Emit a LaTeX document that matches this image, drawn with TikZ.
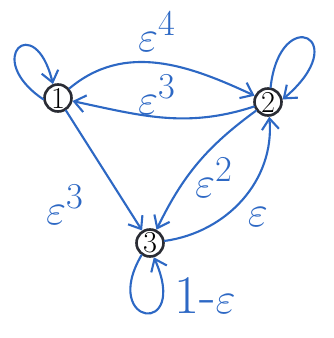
\documentclass[tikz,border=0pt]{standalone}
\usetikzlibrary{arrows.meta}
\definecolor{penblue}{HTML}{2D68C4}
\definecolor{inkgray}{HTML}{2A2C34}

\begin{document}
\begin{tikzpicture}[x=0.02cm, y=0.02cm,
    state/.style={circle, draw=inkgray, line width=1.5pt, minimum size=0.54cm,
                  inner sep=0pt, font=\LARGE},
    trans/.style={-{Straight Barb[length=2.2mm, width=3.4mm]}, draw=penblue,
                  line width=1.2pt, line cap=round},
    prob/.style={text=penblue, inner sep=1pt, font=\fontsize{31}{33}\selectfont}
  ]
    \useasboundingbox (0,0) rectangle (334,338);

    \node[state] (n1) at (58,240) {1};
    \node[state] (n2) at (268,236) {2};
    \node[state] (n3) at (150,95) {3};

    \draw[trans] (n1) to[out=40, in=155] (n2);
    \draw[trans] (n2) to[out=198, in=-12] (n1);
    \draw[trans] (n1) -- (n3);
    \draw[trans] (n2) to[bend right=14] (n3);
    \draw[trans] (n3) to[out=8, in=-85] (n2);

    % self loops
    \draw[trans] (n1.185) .. controls (-18,280) and (35,328) .. (n1.110);
    \draw[trans] (n2.80) .. controls (280,335) and (355,300) .. (n2.10);
    \draw[trans] (n3.235) .. controls (100,12) and (190,0) .. (n3.285);

    \node[prob] (p12) at (157,306) {$\varepsilon^4$};
    \node[prob] (p21) at (157,243) {$\varepsilon^3$};
    \node[prob] (p13) at (65,133) {$\varepsilon^3$};
    \node[prob] (p23) at (214,160) {$\varepsilon^2$};
    \node[prob] (p32) at (258,121) {$\varepsilon$};
    \node[prob] (p33) at (205,43) {1-$\varepsilon$};
\end{tikzpicture}
\end{document}
